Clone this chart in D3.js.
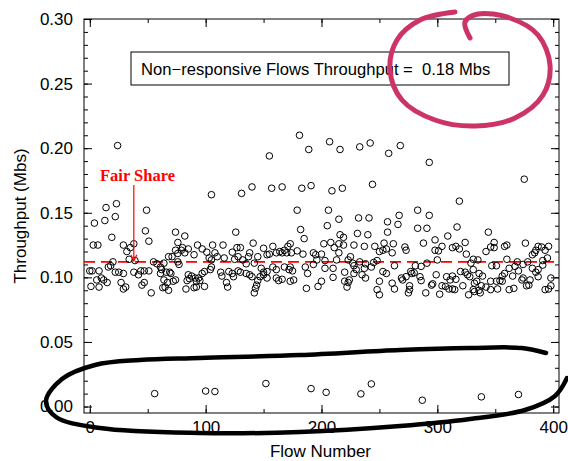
<!DOCTYPE html>
<html>
<head>
<meta charset="utf-8">
<script src="https://cdn.jsdelivr.net/npm/d3@7"></script>
<style>
  body { margin: 0; background: #fff; }
  svg { display: block; font-family: "Liberation Sans", Arial, sans-serif; }
</style>
</head>
<body>
<div id="chart"></div>
<script>
// [flow number, throughput in Mbs]
const peaks = [
  [24,0.202],[14,0.154],[23,0.157],[22,0.147],[4,0.142],[13,0.144],[49,0.152],
  [105,0.164],[131,0.165],[140,0.170],[157,0.169],[166,0.170],[183,0.169],[191,0.171],
  [155,0.194],[181,0.210],[189,0.199],[179,0.152],[207,0.205],[216,0.199],[233,0.201],
  [242,0.204],[258,0.196],[268,0.202],[209,0.167],[218,0.169],[244,0.172],[206,0.152],
  [215,0.145],[232,0.146],[241,0.146],[205,0.140],[267,0.148],[266,0.141],[257,0.143],
  [283,0.152],[293,0.189],[375,0.176],[319,0.159],[293,0.148],[317,0.139],[283,0.138],
  [291,0.138],[344,0.135]
];

const bandLeft = [
  [19,0.131],[3,0.125],[7,0.125],[29,0.125],[48,0.136],[38,0.126],[35,0.123],[32,0.120],
  [51,0.128],[34,0.114],[20,0.112],[39,0.113],[55,0.112],[58,0.1105],[61,0.108],[61,0.103],
  [0,0.105],[2,0.105],[8,0.105],[16,0.108],[18,0.109],[25,0.104],[22,0.104],[38,0.104],
  [44,0.105],[47,0.105],[51,0.105],[29,0.103],[6,0.098],[10,0.0995],[12,0.098],[15,0.096],
  [8,0.0925],[1,0.093],[27,0.096],[42,0.102],[47,0.096],[45,0.094],[53,0.088],[31,0.0925],
  [29,0.091],[63,0.092],
  [74,0.135],[82,0.132],[76,0.127],[80,0.123],[79,0.121],[82,0.119],[85,0.122],[93,0.125],
  [74,0.121],[76,0.1185],[68,0.116],[71,0.116],[90,0.1175],[97,0.122],[101,0.1195],[106,0.125],
  [115,0.125],[126,0.135],[108,0.119],[110,0.116],[103,0.115],[105,0.1135],[116,0.115],
  [123,0.1195],[127,0.123],[130,0.123],[125,0.114],[128,0.116],[64,0.111],[62,0.106],
  [66,0.104],[69,0.104],[70,0.103],[64,0.098],[67,0.096],[72,0.097],[74,0.098],[65,0.0925],
  [68,0.090],[76,0.112],[77,0.110],[85,0.102],[88,0.101],[91,0.0995],[86,0.099],[94,0.0995],
  [95,0.0975],[92,0.097],[97,0.103],[99,0.1045],[104,0.106],[105,0.108],[84,0.0975],[83,0.091],
  [90,0.092],[92,0.0925],[99,0.093],[113,0.104],[114,0.101],[118,0.096],[119,0.0925],
  [120,0.1045],[123,0.103],[124,0.1005],[128,0.105],[130,0.104]
];

const bandMid = [
  [182,0.137],[185,0.130],[141,0.1265],[138,0.119],[137,0.116],[150,0.1225],[158,0.124],
  [145,0.116],[153,0.1175],[155,0.118],[161,0.119],[164,0.120],[166,0.119],[168,0.121],
  [171,0.124],[173,0.126],[170,0.119],[174,0.119],[179,0.1205],[184,0.118],[193,0.119],
  [195,0.1175],[132,0.1135],[135,0.1105],[142,0.111],[135,0.103],[138,0.102],[140,0.1005],
  [148,0.107],[150,0.104],[153,0.1045],[158,0.108],[161,0.106],[168,0.108],[172,0.106],
  [175,0.105],[173,0.108],[186,0.108],[188,0.103],[196,0.1135],[193,0.110],[147,0.1005],
  [145,0.0975],[144,0.094],[143,0.0915],[142,0.088],[150,0.102],[153,0.0995],[161,0.0995],
  [163,0.0975],[166,0.0985],[176,0.098],[173,0.097],[187,0.0915],[197,0.093],
  [202,0.126],[208,0.127],[211,0.123],[215,0.126],[219,0.125],[228,0.125],[237,0.124],
  [246,0.124],[250,0.120],[253,0.121],[256,0.122],[254,0.1265],[262,0.126],[200,0.118],
  [215,0.119],[225,0.116],[261,0.119],[203,0.113],[213,0.1135],[223,0.1135],[227,0.111],
  [233,0.112],[238,0.1105],[245,0.1115],[248,0.113],[203,0.107],[210,0.107],[228,0.109],
  [230,0.106],[228,0.103],[237,0.107],[243,0.108],[253,0.1045],[256,0.103],[263,0.109],
  [200,0.097],[210,0.100],[220,0.104],[220,0.097],[224,0.098],[223,0.096],[222,0.0925],
  [235,0.102],[238,0.0995],[250,0.097],[248,0.0905],[250,0.0865],[261,0.0955],[263,0.091],
  [216,0.133],[219,0.131],[231,0.134],[240,0.133],[257,0.135]
];

const bandRight = [
  [309,0.132],[298,0.129],[288,0.1265],
  [272,0.1235],[273,0.121],[304,0.124],[298,0.121],[301,0.1205],[313,0.123],[316,0.124],
  [319,0.122],[324,0.127],[325,0.118],[300,0.1135],[331,0.114],[281,0.109],[286,0.1085],
  [291,0.111],[329,0.111],[277,0.1045],[278,0.103],[280,0.1035],[269,0.0995],[270,0.098],
  [273,0.1005],[285,0.1005],[286,0.0975],[299,0.102],[276,0.0935],[276,0.0905],[275,0.088],
  [295,0.094],[296,0.095],[290,0.088],[308,0.1005],[311,0.098],[313,0.101],[316,0.0985],
  [320,0.1045],[324,0.104],[326,0.102],[328,0.1005],[304,0.0935],[307,0.093],[310,0.091],
  [313,0.091],[302,0.087],[315,0.0905],[322,0.0935],[331,0.0905],[327,0.0865],
  [349,0.127],[346,0.1235],[342,0.120],[349,0.123],[358,0.124],[360,0.125],[376,0.1265],
  [385,0.121],[387,0.124],[390,0.1235],[393,0.121],[396,0.124],[382,0.1175],[384,0.119],
  [395,0.115],[335,0.1135],[360,0.114],[369,0.112],[374,0.110],[378,0.112],[391,0.113],
  [347,0.109],[351,0.109],[367,0.1085],[370,0.105],[362,0.107],[382,0.107],[385,0.104],
  [387,0.106],[391,0.1095],[331,0.106],[339,0.101],[336,0.103],[358,0.103],[356,0.101],
  [365,0.101],[374,0.0995],[398,0.0995],[334,0.097],[332,0.0955],[338,0.0935],[342,0.0925],
  [346,0.0905],[336,0.090],[337,0.088],[332,0.089],[346,0.097],[351,0.097],[354,0.0975],
  [356,0.097],[352,0.091],[362,0.0905],[366,0.0915],[373,0.098],[377,0.0935],[379,0.094],
  [380,0.098],[387,0.1005],[393,0.0905],[396,0.091],[398,0.0935]
];

// flows that get almost nothing
const starved = [
  [56,0.010],[100,0.012],[108,0.0116],[152,0.0178],[191,0.0139],[204,0.011],[234,0.0098],
  [243,0.0175],[287,0.0049],[338,0.0075],[370,0.0093]
];

const fairShare = 0.112;
const yTicks = [0, 0.05, 0.10, 0.15, 0.20, 0.25, 0.30];
const xTicks = [0, 100, 200, 300, 400];
const boxText = "Non\u2212responsive Flows Throughput =  0.18 Mbs";

const W = 568, H = 461;
const plot = { left: 84, right: 559, top: 19, bottom: 413 };
const fontSize = 17;

const svg = d3.select("#chart").append("svg")
  .attr("width", W)
  .attr("height", H);

const x = d3.scaleLinear().domain([-5, 405]).range([plot.left, plot.right]);
const y = d3.scaleLinear().domain([-0.005, 0.30]).range([plot.bottom, plot.top]);

// frame
svg.append("rect")
  .attr("x", plot.left).attr("y", plot.top)
  .attr("width", plot.right - plot.left).attr("height", plot.bottom - plot.top)
  .attr("fill", "none").attr("stroke", "#000").attr("stroke-width", 1);

// ticks on all four sides, pointing in
const yMinor = d3.range(0, 31).map(d => d / 100);
const xMinor = d3.range(0, 401, 50);

function tickAxes(axisFn, scale, pos, major, minor, majorLen, minorLen) {
  svg.append("g")
    .attr("transform", pos)
    .call(axisFn(scale).tickValues(minor).tickSize(minorLen).tickFormat(""))
    .call(g => g.select(".domain").remove());
  svg.append("g")
    .attr("transform", pos)
    .call(axisFn(scale).tickValues(major).tickSize(majorLen).tickFormat(""))
    .call(g => g.select(".domain").remove());
}
tickAxes(d3.axisLeft, y, `translate(${plot.left},0)`, yTicks, yMinor, -8, -4);
tickAxes(d3.axisRight, y, `translate(${plot.right},0)`, yTicks, yMinor, -8, -4);
tickAxes(d3.axisBottom, x, `translate(0,${plot.bottom})`, xTicks, xMinor, -8, -4);
tickAxes(d3.axisTop, x, `translate(0,${plot.top})`, xTicks, xMinor, -8, -4);

// tick labels
svg.append("g")
  .attr("transform", `translate(${plot.left},0)`)
  .call(d3.axisLeft(y).tickValues(yTicks).tickSize(0).tickPadding(11).tickFormat(d3.format(".2f")))
  .call(g => g.select(".domain").remove())
  .selectAll("text")
  .attr("font-family", "Liberation Sans, Arial, sans-serif")
  .attr("font-size", fontSize)
  .attr("fill", "#000");

svg.append("g")
  .attr("transform", `translate(0,${plot.bottom})`)
  .call(d3.axisBottom(x).tickValues(xTicks).tickSize(0).tickPadding(8).tickFormat(d3.format("d")))
  .call(g => g.select(".domain").remove())
  .selectAll("text")
  .attr("font-family", "Liberation Sans, Arial, sans-serif")
  .attr("font-size", fontSize)
  .attr("fill", "#000");

// axis titles
svg.append("text")
  .attr("transform", `translate(26,${(plot.top + plot.bottom) / 2}) rotate(-90)`)
  .attr("text-anchor", "middle")
  .attr("font-size", fontSize)
  .text("Throughput (Mbs)");

svg.append("text")
  .attr("x", (plot.left + plot.right) / 2 - 1)
  .attr("y", 457)
  .attr("text-anchor", "middle")
  .attr("font-size", fontSize)
  .text("Flow Number");

// fair share line
svg.append("line")
  .attr("x1", plot.left).attr("x2", plot.right)
  .attr("y1", y(fairShare)).attr("y2", y(fairShare))
  .attr("stroke", "#ff0000").attr("stroke-width", 1.6)
  .attr("stroke-dasharray", "11,6");

// data points
const allPoints = peaks.concat(bandLeft, bandMid, bandRight, starved);
svg.append("g")
  .selectAll("circle")
  .data(allPoints)
  .join("circle")
  .attr("cx", d => x(d[0]))
  .attr("cy", d => y(d[1]))
  .attr("r", 3.3)
  .attr("fill", "none")
  .attr("stroke", "#000")
  .attr("stroke-width", 1);

// fair share annotation
const arrowX = x(38);
svg.append("line")
  .attr("x1", arrowX).attr("x2", arrowX)
  .attr("y1", 185).attr("y2", y(fairShare) - 1)
  .attr("stroke", "#ff0000").attr("stroke-width", 1.2);
svg.append("path")
  .attr("d", `M${arrowX - 3},${y(fairShare) - 7} L${arrowX},${y(fairShare) - 1} L${arrowX + 3},${y(fairShare) - 7}`)
  .attr("fill", "none").attr("stroke", "#ff0000").attr("stroke-width", 1.2);
svg.append("text")
  .attr("x", 100).attr("y", 181)
  .attr("font-family", "Liberation Serif, Times New Roman, serif")
  .attr("font-weight", "bold")
  .attr("font-size", 16.5)
  .attr("fill", "#ff0000")
  .text("Fair Share");

// legend box
svg.append("rect")
  .attr("x", 131).attr("y", 52)
  .attr("width", 378).attr("height", 33)
  .attr("fill", "#fff").attr("stroke", "#000").attr("stroke-width", 1);
svg.append("text")
  .attr("x", 141).attr("y", 75)
  .attr("font-size", 16.6)
  .style("white-space", "pre")
  .text(boxText);

// hand drawn marks
const line = d3.line().curve(d3.curveCatmullRom.alpha(0.5));
const pinkLoop = [[455,12],[420,20],[397,40],[390,70],[402,100],[435,120],[475,126],[515,118],[543,95],[550,65],[538,35],[510,18],[478,14],[465,22],[470,38]];
svg.append("path")
  .attr("d", line(pinkLoop))
  .attr("fill", "none").attr("stroke", "#cc3366").attr("stroke-width", 5)
  .attr("stroke-linecap", "round");

const blackLoop = [[546,353],[522,348],[470,348],[400,350],[300,355],[200,358],[140,360],[95,365],[62,379],[46,401],[56,417],[100,428],[200,433],[300,432],[400,426],[470,419],[525,410],[555,396],[567,378]];
svg.append("path")
  .attr("d", line(blackLoop))
  .attr("fill", "none").attr("stroke", "#000").attr("stroke-width", 4.5)
  .attr("stroke-linecap", "round");
</script>
</body>
</html>
